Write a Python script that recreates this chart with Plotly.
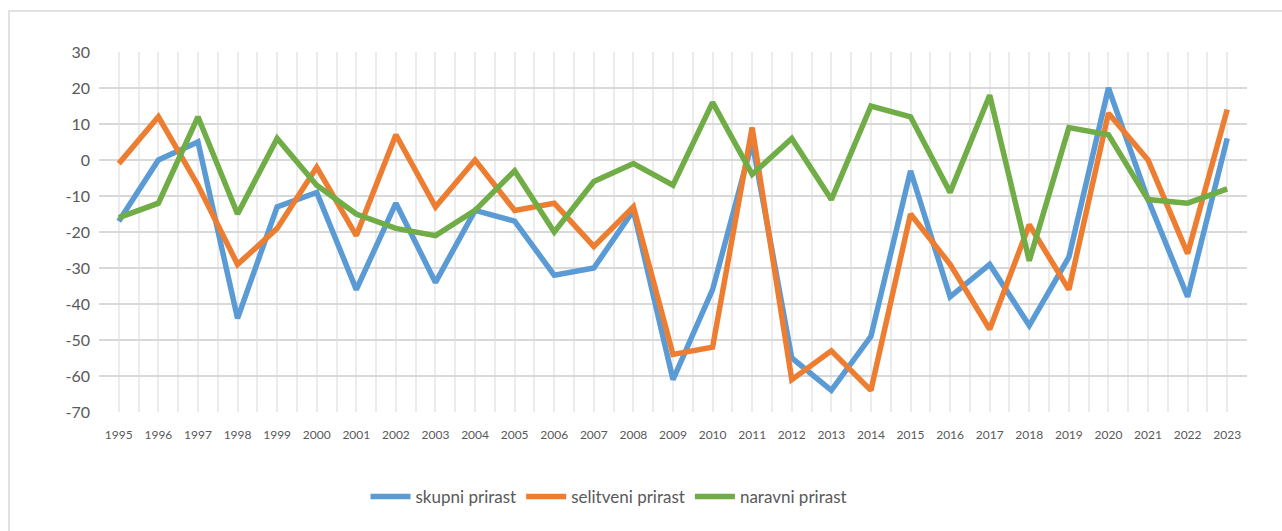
import plotly.graph_objects as go

years = [str(y) for y in range(1995, 2024)]
skupni = [-17, 0, 5, -44, -13, -9, -36, -12, -34, -14, -17, -32, -30, -14, -61, -36, 5,
          -55, -64, -49, -3, -38, -29, -46, -27, 20, -11, -38, 6]
selitveni = [-1, 12, -7, -29, -19, -2, -21, 7, -13, 0, -14, -12, -24, -13, -54, -52, 9,
             -61, -53, -64, -15, -29, -47, -18, -36, 13, 0, -26, 14]
naravni = [-16, -12, 12, -15, 6, -7, -15, -19, -21, -14, -3, -20, -6, -1, -7, 16, -4,
           6, -11, 15, 12, -9, 18, -28, 9, 7, -11, -12, -8]
y_ticks = [30, 20, 10, 0, -10, -20, -30, -40, -50, -60, -70]

series = [("skupni prirast", skupni, "#5b9bd5"),
          ("selitveni prirast", selitveni, "#ed7d31"),
          ("naravni prirast", naravni, "#70ad47")]

xpos = list(range(len(years)))
fig = go.Figure()
for name, vals, col in series:
    fig.add_trace(go.Scatter(x=xpos, y=vals, mode="lines", name=name,
                             line=dict(color=col, width=5.5)))

W, H = 1282, 531
L, R, T, B = 99, 35, 52, 119
pw, ph = W - L - R, H - T - B

fig.update_layout(
    width=W, height=H, autosize=False,
    margin=dict(l=L, r=R, t=T, b=B),
    paper_bgcolor="white", plot_bgcolor="white",
    font=dict(family="Lato, 'Open Sans', sans-serif", color="#595959"),
    showlegend=True,
    legend=dict(orientation="h", x=(609 - L) / pw, xanchor="center",
                y=(T + ph - 497) / ph, yanchor="middle",
                font=dict(size=17, color="#595959"), itemwidth=40,
                traceorder="normal"),
    xaxis=dict(range=[-0.5, len(years) - 0.5], tickmode="array", tickvals=xpos,
               ticktext=years, tickfont=dict(size=12), showgrid=True,
               gridcolor="#ececec", gridwidth=2, zeroline=False, showline=False,
               ticks="", ticklabelstandoff=14,
               minor=dict(tickvals=[i - 0.5 for i in range(len(years) + 1)],
                          showgrid=True, gridcolor="#ececec", gridwidth=2, ticks="")),
    yaxis=dict(range=[-70, 30], tickmode="array", tickvals=y_ticks,
               ticktext=[str(v) for v in y_ticks], tickfont=dict(size=16),
               showgrid=True, gridcolor="#d9d9d9", gridwidth=2, zeroline=False,
               showline=False, ticks="", ticklabelstandoff=8),
    shapes=[dict(type="rect", xref="paper", yref="paper",
                 x0=(9 - L) / pw, x1=1.2, y0=-0.6, y1=1 + (T - 11) / ph,
                 line=dict(color="#d9d9d9", width=1.5), layer="below")],
)

fig.write_html("out.html", config={"displayModeBar": False},
               post_script="document.body.style.margin='0';document.body.style.overflow='hidden';")
